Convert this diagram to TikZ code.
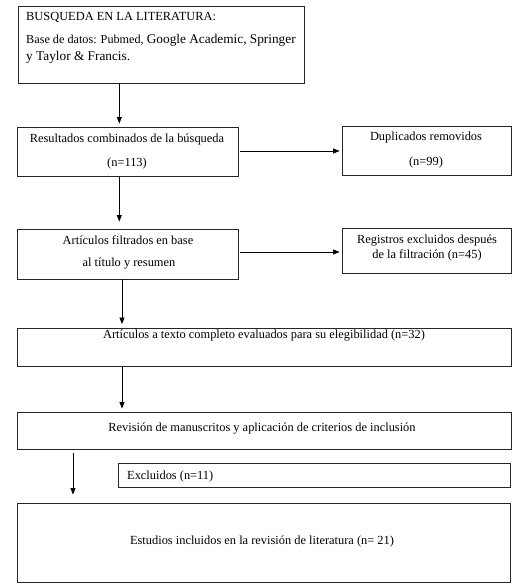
\documentclass[tikz,border=0pt]{standalone}
\usepackage{fontspec}
\setmainfont{Liberation Serif}
\usetikzlibrary{arrows.meta}
\begin{document}
\begin{tikzpicture}[x=1pt,y=-1pt,
  box/.style={draw=black!85,line width=0.9pt,inner sep=0pt},
  txt/.style={inner sep=0pt,font=\fontsize{12.4}{14}\selectfont},
  arr/.style={draw=black,line width=0.8pt,-{Triangle[length=6.5pt,width=5pt]}}]
\useasboundingbox (0,0) rectangle (517,588);
% boxes
\node[box,minimum width=286pt,minimum height=77pt] (b1) at (161,44.5) {};
\node[box,minimum width=221pt,minimum height=49pt] (b2) at (127.5,151.5) {};
\node[box,minimum width=169pt,minimum height=49pt] (d2) at (426.5,150.5) {};
\node[box,minimum width=221pt,minimum height=50pt] (b3) at (127.5,254) {};
\node[box,minimum width=169pt,minimum height=45pt] (r3) at (426.5,250.5) {};
\node[box,minimum width=494pt,minimum height=38pt] (b4) at (264,347.5) {};
\node[box,minimum width=494pt,minimum height=37pt] (b5) at (264,430.5) {};
\node[box,minimum width=392pt,minimum height=24pt] (ex) at (314,475) {};
\node[box,minimum width=493pt,minimum height=79pt] (b6) at (263.5,542.5) {};
% texts
\node[txt,anchor=base west] (t1a) at (26,21) {BUSQUEDA EN LA LITERATURA:};
\node[txt,anchor=base west] (t1b) at (26,43.5) {{\fontsize{12.2}{14}\selectfont Base de datos: Pubmed,} {\fontsize{13.3}{16}\selectfont Google Academic, Springer}};
\node[txt,anchor=base west] (t1c) at (26,60.5) {\fontsize{13.3}{16}\selectfont y Taylor \& Francis.};
\node[txt,anchor=base] (t2a) at (127,142.5) {Resultados combinados de la búsqueda};
\node[txt,anchor=base] (t2b) at (127,166) {(n=113)};
\node[txt,anchor=base] (d2a) at (426,141) {Duplicados removidos};
\node[txt,anchor=base] (d2b) at (426,165) {(n=99)};
\node[txt,anchor=base] (t3a) at (128,244.5) {Artículos filtrados en base};
\node[txt,anchor=base] (t3b) at (129,266.5) {al título y resumen};
\node[txt,anchor=base] (r3a) at (427,243.5) {Registros excluidos después};
\node[txt,anchor=base] (r3b) at (427,258.5) {de la filtración (n=45)};
\node[txt,anchor=base] (t4) at (264,338.5) {Artículos a texto completo evaluados para su elegibilidad (n=32)};
\node[txt,anchor=base] (t5) at (262,431.5) {Revisión de manuscritos y aplicación de criterios de inclusión};
\node[txt,anchor=base west] (tex) at (127,479) {Excluidos (n=11)};
\node[txt,anchor=base] (t6) at (262,544) {Estudios incluidos en la revisión de literatura (n= 21)};
% arrows
\coordinate (xa) at (119.3,0);
\coordinate (xb) at (122,0);
\coordinate (xc) at (73,0);
\coordinate (ya) at (0,151);
\coordinate (yb) at (0,252);
\draw[arr,shorten >=3pt] (xa |- b1.south) -- (xa |- b2.north);
\draw[arr,shorten <=1pt,shorten >=7pt] (xa |- b2.south) -- (xa |- b3.north);
\draw[arr,shorten >=4pt] (xb |- b3.south) -- (xb |- b4.north);
\draw[arr,shorten >=3pt] (xb |- b4.south) -- (xb |- b5.north);
\draw[arr,shorten <=4pt,shorten >=8pt] (xc |- b5.south) -- (xc |- b6.north);
\draw[arr,shorten <=2pt,shorten >=2pt] (b2.east |- ya) -- (d2.west |- ya);
\draw[arr,shorten <=2pt,shorten >=2pt] (b3.east |- yb) -- (r3.west |- yb);
\end{tikzpicture}
\end{document}
